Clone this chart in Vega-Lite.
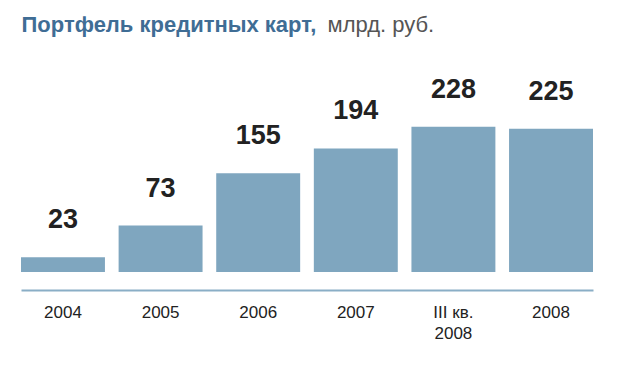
{
  "$schema": "https://vega.github.io/schema/vega-lite/v6.json",
  "autosize": "none",
  "width": 572,
  "height": 191,
  "padding": {"left": 21, "top": 81, "right": 30, "bottom": 99},
  "background": "white",
  "config": {"view": {"stroke": null}},
  "data": {
    "values": [
      {"period": "2004", "value": 23},
      {"period": "2005", "value": 73},
      {"period": "2006", "value": 155},
      {"period": "2007", "value": 194},
      {"period": "III кв.|2008", "value": 228},
      {"period": "2008", "value": 225}
    ]
  },
  "encoding": {
    "x": {
      "field": "period",
      "type": "nominal",
      "sort": null,
      "scale": {"paddingInner": 0.14, "paddingOuter": 0},
      "axis": {
        "title": null,
        "labelAngle": 0,
        "offset": 18,
        "domainColor": "#8aaec6",
        "domainWidth": 2,
        "ticks": false,
        "labelFont": "Liberation Sans",
        "labelFontSize": 17,
        "labelColor": "#222222",
        "labelPadding": 14,
        "labelLineHeight": 21,
        "labelExpr": "split(datum.label, '|')"
      }
    }
  },
  "layer": [
    {
      "mark": {"type": "bar", "color": "#7fa6bf"},
      "encoding": {
        "y": {
          "field": "value",
          "type": "quantitative",
          "scale": {"domain": [0, 300]},
          "axis": {
            "orient": "left",
            "domain": false,
            "ticks": false,
            "labels": false,
            "grid": false,
            "title": "Портфель кредитных карт,",
            "titleAngle": 0,
            "titleAlign": "left",
            "titleBaseline": "alphabetic",
            "titleX": 0,
            "titleY": -50,
            "titleFont": "Liberation Sans",
            "titleFontSize": 22,
            "titleFontWeight": "bold",
            "titleColor": "#3f6d95"
          }
        }
      }
    },
    {
      "mark": {
        "type": "text",
        "dy": -37,
        "baseline": "middle",
        "font": "Liberation Sans",
        "fontSize": 27,
        "fontWeight": "bold",
        "color": "#222222"
      },
      "encoding": {
        "y": {
          "field": "value",
          "type": "quantitative",
          "scale": {"domain": [0, 300]},
          "axis": {
            "orient": "right",
            "domain": false,
            "ticks": false,
            "labels": false,
            "grid": false,
            "title": "млрд. руб.",
            "titleAngle": 0,
            "titleAlign": "left",
            "titleBaseline": "alphabetic",
            "titleX": -266,
            "titleY": -50,
            "titleFont": "Liberation Sans",
            "titleFontSize": 22,
            "titleFontWeight": "normal",
            "titleColor": "#555555"
          }
        },
        "text": {"field": "value", "type": "quantitative"}
      }
    }
  ],
  "resolve": {"scale": {"y": "independent"}, "axis": {"y": "independent"}}
}
